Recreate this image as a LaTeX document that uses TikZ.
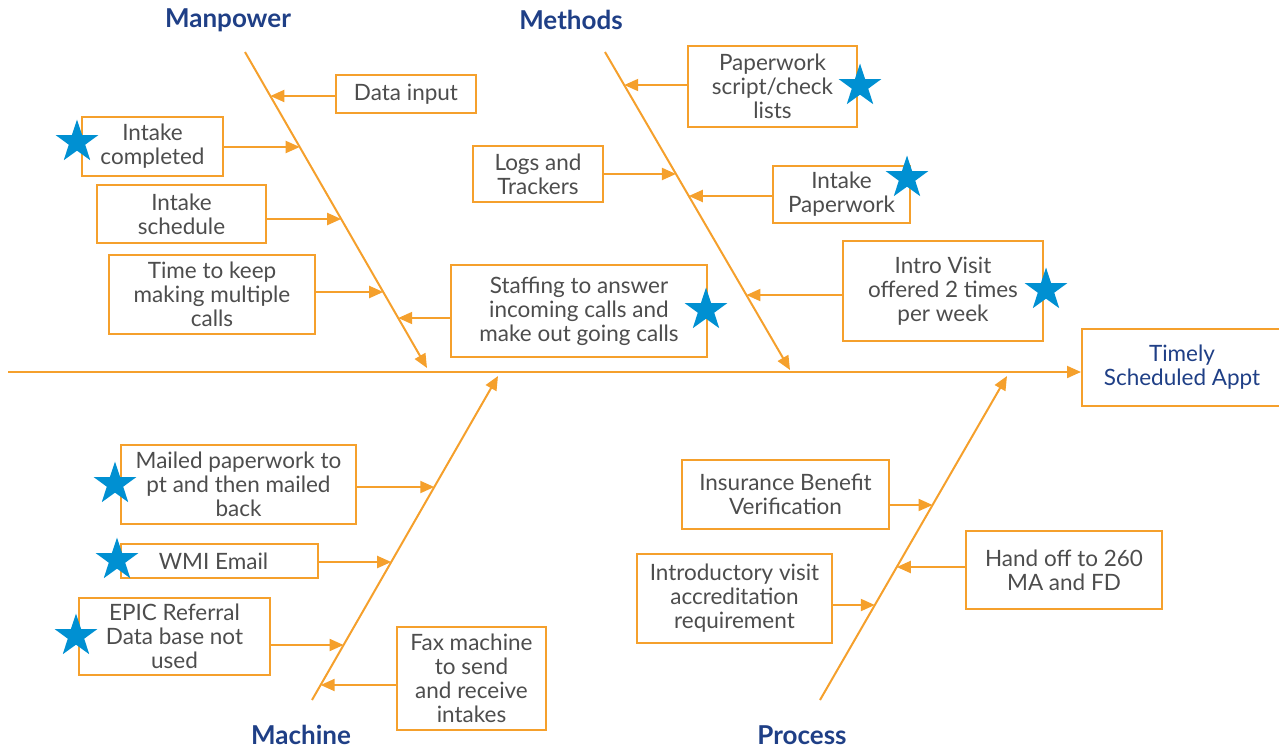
\documentclass[tikz,border=0pt]{standalone}
\usepackage{fontspec}
\setmainfont{Lato}
\usetikzlibrary{arrows.meta,calc,shapes.geometric}
\definecolor{fborange}{HTML}{F5A02C}
\definecolor{fbtext}{HTML}{4D4D4D}
\definecolor{fbblue}{HTML}{1F3F86}
\definecolor{fbstar}{HTML}{0090D2}
\tikzset{
  cause/.style={draw=fborange, line width=2pt, align=center, inner sep=0pt,
    text=fbtext, font=\fontsize{22.5}{24}\selectfont},
  effect/.style={cause, text=fbblue},
  cat/.style={text=fbblue, font=\fontsize{26}{30}\selectfont\bfseries},
  feed/.style={draw=fborange, line width=2pt, -{Triangle[length=14pt,width=12pt]}},
  starmark/.style={star, star points=5, star point ratio=2.6, minimum size=45pt,
    inner sep=0pt, fill=fbstar, draw=none},
}
\begin{document}
\begin{tikzpicture}[x=1pt,y=-1pt]
\useasboundingbox (0,0) rectangle (1279,750);
\clip (0,0) rectangle (1279,750);
% category labels
\node[cat] (lmp) at (228,20) {Manpower};
\node[cat] (lme) at (571,20) {Methods};
\node[cat] (lma) at (301,735) {Machine};
\node[cat] (lpr) at (802,735) {Process};
% bones
\coordinate (mpS) at (245,52);  \coordinate (mpE) at (427,368);
\coordinate (meS) at (605,52);  \coordinate (meE) at (790,370);
\coordinate (maS) at (312,700); \coordinate (maE) at (498,376);
\coordinate (prS) at (820,700); \coordinate (prE) at (1007,376);
\coordinate (spS) at (8,372);
% effect
\node[effect, minimum width=203pt, minimum height=77pt] (timely) at (1183.5,367.5) {\hspace*{-3pt}Timely\\\hspace*{-3pt}Scheduled Appt};
\draw[feed] (spS) -- (spS -| timely.west);
\draw[feed] (mpS) -- (mpE);
\draw[feed] (meS) -- (meE);
\draw[feed] (maS) -- (maE);
\draw[feed] (prS) -- (prE);
% boxes
\node[cause, minimum width=140pt, minimum height=38pt] (datain) at (406,94) {Data input};
\node[cause, minimum width=141pt, minimum height=59pt] (intakec) at (152.5,146.5) {Intake\\completed};
\node[cause, minimum width=169pt, minimum height=58pt] (intakes) at (181.5,214) {Intake\\schedule};
\node[cause, minimum width=206pt, minimum height=79pt] (timekeep) at (212,294.5) {Time to keep\\making multiple\\calls};
\node[cause, minimum width=256pt, minimum height=92pt] (staff) at (579,311) {Staffing to answer\\incoming calls and\\make out going calls};
\node[cause, minimum width=169pt, minimum height=81pt] (paper) at (772.5,86.5) {Paperwork\\script/check\\lists};
\node[cause, minimum width=130pt, minimum height=56pt] (logs) at (538,174) {Logs and\\Trackers};
\node[cause, minimum width=137pt, minimum height=57pt] (intakep) at (841.5,194.5) {Intake\\Paperwork};
\node[cause, minimum width=200pt, minimum height=100pt] (intro) at (943,291) {Intro Visit\\offered 2 times\\per week};
\node[cause, minimum width=235pt, minimum height=79pt] (mailed) at (238.5,484.5) {Mailed paperwork to\\pt and then mailed\\back};
\node[cause, minimum width=197pt, minimum height=34pt] (wmi) at (219.5,561) {\hspace*{-12pt}WMI Email};
\node[cause, minimum width=191pt, minimum height=77pt] (epic) at (174.5,636.5) {EPIC Referral\\Data base not\\used};
\node[cause, minimum width=149pt, minimum height=103pt] (fax) at (471.5,678.5) {Fax machine\\to send\\and receive\\intakes};
\node[cause, minimum width=207pt, minimum height=69pt] (insur) at (785.5,494.5) {Insurance Benefit\\Verification};
\node[cause, minimum width=195pt, minimum height=89pt] (introd) at (734.5,598.5) {Introductory visit\\accreditation\\requirement};
\node[cause, minimum width=196pt, minimum height=78pt] (handoff) at (1064,570) {Hand off to 260\\MA and FD};
% points on bones
\coordinate (pData) at ($(mpS)!0.1392!(mpE)$);
\coordinate (pIntC) at ($(mpS)!0.3006!(mpE)$);
\coordinate (pIntS) at ($(mpS)!0.5285!(mpE)$);
\coordinate (pTime) at ($(mpS)!0.7595!(mpE)$);
\coordinate (pStaff) at ($(mpS)!0.8418!(mpE)$);
\coordinate (pPaper) at ($(meS)!0.1038!(meE)$);
\coordinate (pLogs) at ($(meS)!0.3836!(meE)$);
\coordinate (pIntP) at ($(meS)!0.4528!(meE)$);
\coordinate (pIntro) at ($(meS)!0.7642!(meE)$);
\coordinate (pMail) at ($(maS)!0.6574!(maE)$);
\coordinate (pWmi) at ($(maS)!0.4259!(maE)$);
\coordinate (pEpic) at ($(maS)!0.1698!(maE)$);
\coordinate (pFax) at ($(maS)!0.0463!(maE)$);
\coordinate (pIns) at ($(prS)!0.6019!(prE)$);
\coordinate (pIntd) at ($(prS)!0.2932!(prE)$);
\coordinate (pHand) at ($(prS)!0.4105!(prE)$);
% feeders
\draw[feed] (pData -| datain.west) -- (pData);
\draw[feed] (pIntC -| intakec.east) -- (pIntC);
\draw[feed] (pIntS -| intakes.east) -- (pIntS);
\draw[feed] (pTime -| timekeep.east) -- (pTime);
\draw[feed] (pStaff -| staff.west) -- (pStaff);
\draw[feed] (pPaper -| paper.west) -- (pPaper);
\draw[feed] (pLogs -| logs.east) -- (pLogs);
\draw[feed] (pIntP -| intakep.west) -- (pIntP);
\draw[feed] (pIntro -| intro.west) -- (pIntro);
\draw[feed] (pMail -| mailed.east) -- (pMail);
\draw[feed] (pWmi -| wmi.east) -- (pWmi);
\draw[feed] (pEpic -| epic.east) -- (pEpic);
\draw[feed] (pFax -| fax.west) -- (pFax);
\draw[feed] (pIns -| insur.east) -- (pIns);
\draw[feed] (pIntd -| introd.east) -- (pIntd);
\draw[feed] (pHand -| handoff.west) -- (pHand);
% stars
\node[starmark] (s1) at (77,142) {};
\node[starmark] (s2) at (706,310) {};
\node[starmark] (s3) at (860,86) {};
\node[starmark] (s4) at (907,178) {};
\node[starmark] (s5) at (1046,290) {};
\node[starmark] (s6) at (115,484) {};
\node[starmark] (s7) at (117,560) {};
\node[starmark] (s8) at (76,636) {};
\end{tikzpicture}
\end{document}
